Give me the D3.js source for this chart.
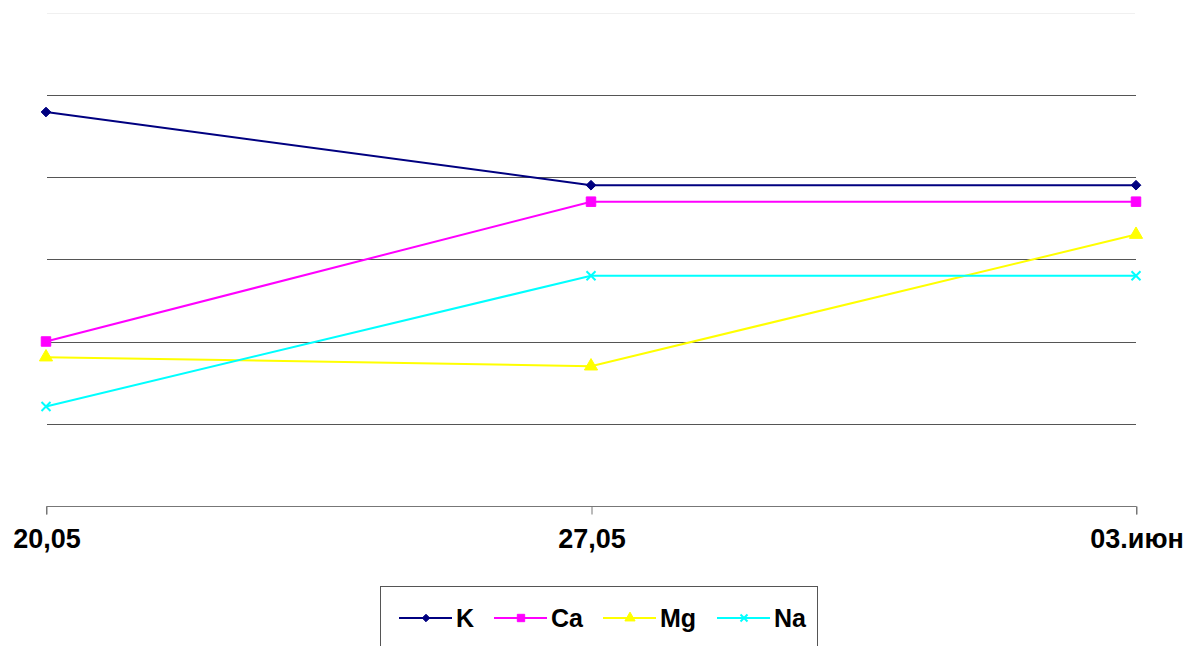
<!DOCTYPE html>
<html>
<head>
<meta charset="utf-8">
<script src="https://cdn.jsdelivr.net/npm/d3@7"></script>
<style>
  html, body { margin: 0; padding: 0; background: #fff; }
  svg { display: block; font-family: Arial, "Liberation Sans", sans-serif; }
</style>
</head>
<body>
<svg id="chart" width="1189" height="646"></svg>
<script>
// Dates on the category axis
const dates = ["20,05", "27,05", "03.июн"];
// Series values per date
const K  = [4.79, 3.90, 3.90];
const Ca = [2.00, 3.70, 3.70];
const Mg = [1.81, 1.70, 3.30];
const Na = [1.21, 2.80, 2.80];
const seriesNames = ["K", "Ca", "Mg", "Na"];
const gridValues = [1, 2, 3, 4, 5];

const series = [
  { name: "K",  values: K,  color: "#000080", symbol: d3.symbolDiamond2, size: 60 },
  { name: "Ca", values: Ca, color: "#ff00ff", symbol: d3.symbolSquare,  size: 90 },
  { name: "Mg", values: Mg, color: "#ffff00", symbol: d3.symbolTriangle, size: 75 },
  { name: "Na", values: Na, color: "#00ffff", symbol: null, size: 0 }
];

const svg = d3.select("#chart");

const x = d3.scalePoint().domain(dates).range([46, 1136]);
const y = d3.scaleLinear().domain([0, 6]).range([506, 12.5]);

// faint top border of plot area
svg.append("line")
  .attr("x1", 47).attr("x2", 1135)
  .attr("y1", Math.round(y(6)) + 0.5).attr("y2", Math.round(y(6)) + 0.5)
  .attr("stroke", "#f0f0f0").attr("stroke-width", 1);

// horizontal gridlines
svg.append("g").selectAll("line").data(gridValues).join("line")
  .attr("x1", 47).attr("x2", 1136)
  .attr("y1", d => Math.round(y(d)) + 0.5)
  .attr("y2", d => Math.round(y(d)) + 0.5)
  .attr("stroke", "#555").attr("stroke-width", 1);

// category axis
const xAxis = d3.axisBottom(x).tickSize(8).tickPadding(14);
const gx = svg.append("g")
  .attr("transform", `translate(0.5,${Math.round(y(0)) + 0.5})`)
  .call(xAxis);
gx.select(".domain").attr("stroke", "#777").attr("d", `M${x(dates[0])},8V0H${x(dates[2])}V8`);
gx.selectAll(".tick line").attr("stroke", "#777");
gx.selectAll(".tick text")
  .attr("font-size", 27).attr("font-weight", "bold").attr("fill", "#000")
  .attr("font-family", "Arial, 'Liberation Sans', sans-serif");

const line = d3.line().x((d, i) => x(dates[i])).y(d => y(d));

function drawMarker(g, s, cx, cy, scale) {
  if (s.symbol) {
    g.append("path")
      .attr("d", d3.symbol().type(s.symbol).size(s.size * scale)())
      .attr("transform", `translate(${cx},${cy})`)
      .attr("fill", s.color)
      .attr("stroke", s.color).attr("stroke-width", 1);
  } else {
    const r = 4.5 * Math.sqrt(scale);
    g.append("path")
      .attr("d", `M${cx - r},${cy - r}L${cx + r},${cy + r}M${cx - r},${cy + r}L${cx + r},${cy - r}`)
      .attr("stroke", s.color).attr("stroke-width", 2).attr("fill", "none");
  }
}

// series lines and markers
series.forEach(s => {
  const g = svg.append("g");
  g.append("path")
    .datum(s.values)
    .attr("d", line)
    .attr("fill", "none")
    .attr("stroke", s.color)
    .attr("stroke-width", 2);
  s.values.forEach((v, i) => drawMarker(g, s, x(dates[i]), y(v), 1));
});

// legend
const legend = svg.append("g");
legend.append("rect")
  .attr("x", 380.5).attr("y", 586.5).attr("width", 437).attr("height", 80)
  .attr("fill", "#fff").attr("stroke", "#555").attr("stroke-width", 1);

const legendX = [399, 494, 603, 717];
const ly = 618;
series.forEach((s, i) => {
  const lx = legendX[i];
  legend.append("line")
    .attr("x1", lx).attr("x2", lx + 53).attr("y1", ly).attr("y2", ly)
    .attr("stroke", s.color).attr("stroke-width", 2);
  drawMarker(legend, s, lx + 27, ly, 0.6);
  legend.append("text")
    .attr("x", lx + 57).attr("y", ly + 9)
    .attr("font-size", 25).attr("font-weight", "bold").attr("fill", "#000")
    .text(seriesNames[i]);
});
</script>
</body>
</html>
